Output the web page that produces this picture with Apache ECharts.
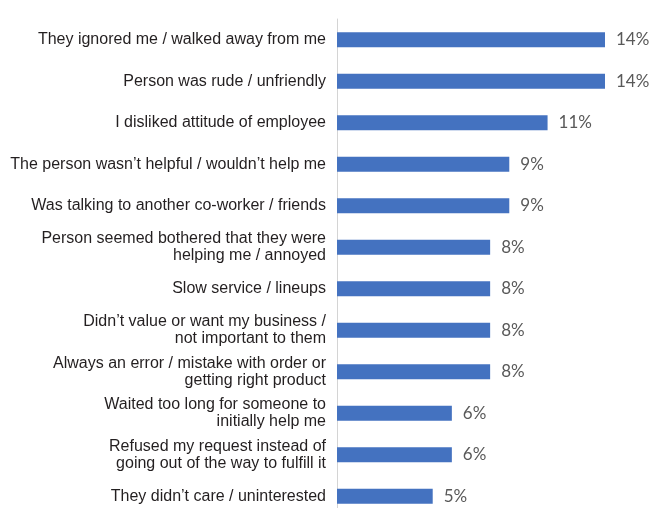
<!DOCTYPE html>
<html>
<head>
<meta charset="utf-8">
<style>
  html, body { margin: 0; padding: 0; background: #ffffff; overflow: hidden; }
  #chart { width: 657px; height: 508px; }
</style>
<script src="https://cdn.jsdelivr.net/npm/echarts@6/dist/echarts.min.js"></script>
</head>
<body>
<div id="chart"></div>
<script>
// Reasons given for a poor service experience (% of respondents)
const categories = [
  "They ignored me / walked away from me",
  "Person was rude / unfriendly",
  "I disliked attitude of employee",
  "The person wasn\u2019t helpful / wouldn\u2019t help me",
  "Was talking to another co-worker / friends",
  "Person seemed bothered that they were\nhelping me / annoyed",
  "Slow service / lineups",
  "Didn\u2019t value or want my business /\nnot important to them",
  "Always an error / mistake with order or\ngetting right product",
  "Waited too long for someone to\ninitially help me",
  "Refused my request instead of\ngoing out of the way to fulfill it",
  "They didn\u2019t care / uninterested"
];
const values = [14, 14, 11, 9, 9, 8, 8, 8, 8, 6, 6, 5];

const chart = echarts.init(document.getElementById('chart'), null, { renderer: 'canvas' });
chart.setOption({
  animation: false,
  backgroundColor: '#ffffff',
  // the last row runs slightly past the bottom edge of the canvas
  grid: {
    left: 337, width: 268, top: 19, height: 498,
    containLabel: false,
    outerBoundsMode: 'none'
  },
  xAxis: {
    type: 'value',
    min: 0,
    max: 14,
    show: false
  },
  yAxis: {
    type: 'category',
    inverse: true,
    data: categories,
    axisLine: { show: true, lineStyle: { color: '#d4d4d4', width: 1 } },
    axisTick: { show: false },
    axisLabel: {
      margin: 11,
      color: '#231f20',
      fontFamily: 'Liberation Sans, Arial, sans-serif',
      fontSize: 16,
      lineHeight: 17,
      align: 'right'
    }
  },
  series: [{
    type: 'bar',
    data: values,
    barWidth: 15,
    itemStyle: { color: '#4472c0' },
    label: {
      show: true,
      position: 'right',
      distance: 11,
      formatter: '{c}%',
      color: '#595959',
      fontFamily: 'Lato, Carlito, sans-serif',
      fontSize: 17
    }
  }]
});
</script>
</body>
</html>
